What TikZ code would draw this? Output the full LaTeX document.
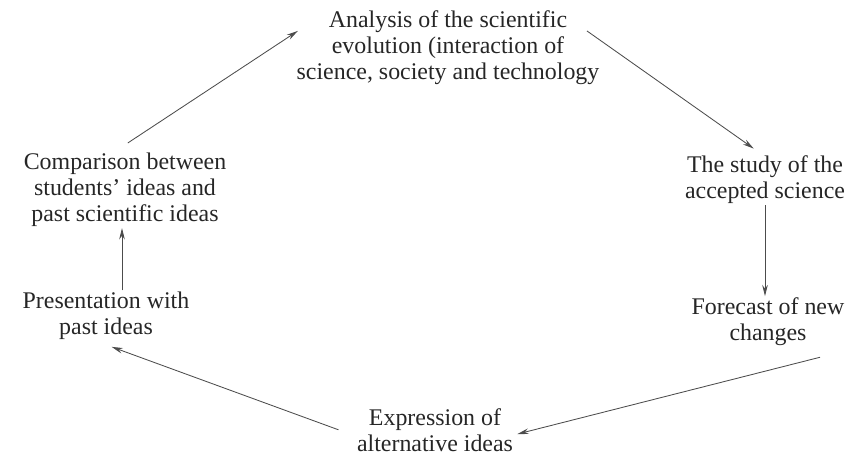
\documentclass[tikz,border=0pt]{standalone}
\usepackage{fontspec}
\setmainfont{Liberation Serif}
\usetikzlibrary{arrows.meta, positioning}

\begin{document}
\begin{tikzpicture}[
  stage/.style={align=center, inner sep=1pt, font=\fontsize{17}{18.4}\selectfont, text=black!85},
  flow/.style={draw=black!70, line width=0.6pt, -{Stealth[length=8pt, width=4pt]}}
]
  \useasboundingbox (0,0) rectangle (21.325,11.425);
  \node[stage] (ana)   at (11.2,10.23)  {Analysis of the scientific\\evolution (interaction of\\science, society and technology};
  \node[stage] (study) at (19.125,6.93) {The study of the\\accepted science};
  \node[stage] (fore)  at (19.2,3.38)   {Forecast of new\\changes};
  \node[stage] (expr)  at (10.875,0.68) {Expression of\\alternative ideas};
  \node[stage] (pres)  at (2.65,3.53)   {Presentation with\\past ideas};
  \node[stage] (comp)  at (3.125,6.68)  {Comparison between\\students' ideas and\\past scientific ideas};
  \draw[flow] ([xshift=2pt, yshift=6pt]comp.north) -- ([xshift=2pt, yshift=12pt]ana.west);
  \draw[flow] ([xshift=-10pt, yshift=12pt]ana.east) -- ([xshift=-8pt, yshift=4pt]study.north);
  \draw[flow] (study.south) -- (study.south |- fore.north);
  \draw[flow] ([xshift=37pt, yshift=-7pt]fore.south) -- ([xshift=2pt, yshift=-3pt]expr.east);
  \draw[flow] ([xshift=-12pt]expr.west) -- ([xshift=4pt, yshift=-4pt]pres.south);
  \draw[flow] ([xshift=0.4cm]pres.north) -- ([xshift=0.4cm]pres.north |- comp.south);
\end{tikzpicture}
\end{document}
